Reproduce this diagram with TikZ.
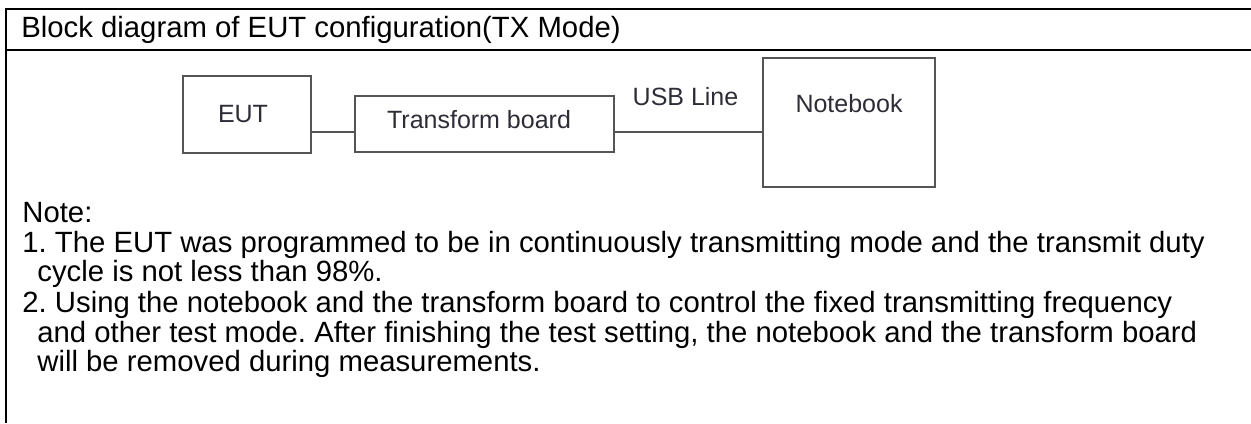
\documentclass[tikz,border=0pt]{standalone}
\usepackage{fontspec}
\setmainfont{Liberation Sans}
\definecolor{boxgray}{RGB}{85,85,85}
\definecolor{diagtext}{RGB}{45,45,55}
\begin{document}
\frenchspacing
\begin{tikzpicture}[x=0.5pt,y=-0.5pt,
  frameline/.style={line width=1.1pt, black},
  blk/.style={draw=boxgray, line width=0.8pt, inner sep=0pt, fill=white},
  wire/.style={draw=boxgray, line width=0.8pt},
  diag/.style={font=\fontsize{12.5}{14}\selectfont, text=diagtext, inner sep=0pt, anchor=base},
  notetext/.style={font=\fontsize{14.65}{15}\selectfont, anchor=base west, inner sep=0pt}]
\useasboundingbox (0,0) rectangle (1251,423);
% frame
\draw[frameline] (5,9) -- (1251,9);
\draw[frameline] (5,50) -- (1251,50);
\draw[frameline] (6,8.5) -- (6,423);
\node[notetext] (title) at (21,37) {Block diagram of EUT configuration(TX Mode)};
% blocks
\node[blk, minimum width=64pt, minimum height=38.5pt] (eut) at (247,114.5) {};
\node[blk, minimum width=129.5pt, minimum height=28pt] (tb) at (484.5,124) {};
\node[blk, minimum width=86pt, minimum height=64.5pt] (nb) at (849,122.5) {};
\node[diag] (eutt) at (243,122) {EUT};
\node[diag] (tbt) at (479,128) {Transform board};
\node[diag] (nbt) at (849,112) {Notebook};
\node[diag] (usb) at (685.5,105) {USB Line};
\coordinate (lvl) at (0,132);
\draw[wire] (eut.east |- lvl) -- (tb.west |- lvl);
\draw[wire] (tb.east |- lvl) -- (nb.west |- lvl);
% notes
\node[notetext] (n0) at (22,222) {Note:};
\node[notetext] (n1) at (22,252) {1. The EUT was programmed to be in continuously transmitting mode and the transmit duty};
\node[notetext] (n2) at (37,281) {cycle is not less than 98\%.};
\node[notetext] (n3) at (22,312) {2. Using the notebook and the transform board to control the fixed transmitting frequency};
\node[notetext] (n4) at (37,342) {and other test mode. After finishing the test setting, the notebook and the transform board};
\node[notetext] (n5) at (37,371) {will be removed during measurements.};
\end{tikzpicture}
\end{document}
